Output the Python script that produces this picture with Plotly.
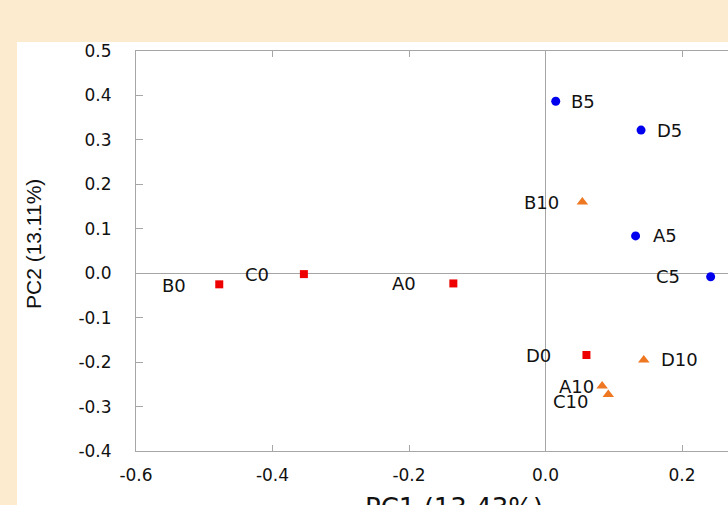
import plotly.graph_objects as go

# ---- data ----
labels_0 = ["A0", "B0", "C0", "D0"]
pc1_0 = [-0.135, -0.478, -0.354, 0.060]
pc2_0 = [-0.023, -0.025, -0.002, -0.184]

labels_5 = ["A5", "B5", "C5", "D5"]
pc1_5 = [0.132, 0.015, 0.242, 0.140]
pc2_5 = [0.084, 0.387, -0.008, 0.322]

labels_10 = ["A10", "B10", "C10", "D10"]
pc1_10 = [0.083, 0.054, 0.092, 0.144]
pc2_10 = [-0.254, 0.160, -0.273, -0.195]

x_tickvals = [-0.6, -0.4, -0.2, 0.0, 0.2]
x_ticktext = ["-0.6", "-0.4", "-0.2", "0.0", "0.2"]
y_tickvals = [-0.4, -0.3, -0.2, -0.1, 0.0, 0.1, 0.2, 0.3, 0.4, 0.5]
y_ticktext = ["-0.4", "-0.3", "-0.2", "-0.1", "0.0", "0.1", "0.2", "0.3", "0.4", "0.5"]

x_title = "PC1 (13.43%)"
y_title = "PC2 (13.11%)"

# ---- label placement styles: (side, horizontal gap px, vertical shift px) ----
label_style = {
    "A0": ("left", 35, 0), "B0": ("left", 31, -1), "C0": ("left", 33, 0), "D0": ("left", 33, 0),
    "A5": ("right", 15, 0), "B5": ("right", 13, 0), "C5": ("left", 29, 0), "D5": ("right", 14, 0),
    "A10": ("left", 6, 0), "B10": ("left", 21, 0), "C10": ("left", 18, -7), "D10": ("right", 15, 0),
}

FONT = "DejaVu Sans"
GRAY = "#a6a6a6"

fig = go.Figure()
fig.add_trace(go.Scatter(x=pc1_0, y=pc2_0, mode="markers",
                         marker=dict(symbol="square", size=8, color="#ee0000"), name="0"))
fig.add_trace(go.Scatter(x=pc1_5, y=pc2_5, mode="markers",
                         marker=dict(symbol="circle", size=9, color="#0000ee"), name="5"))
fig.add_trace(go.Scatter(x=pc1_10, y=pc2_10, mode="markers",
                         marker=dict(symbol="triangle-up", size=10, color="#ee7722"), name="10"))

annotations = []
for labs, xs, ys in [(labels_0, pc1_0, pc2_0), (labels_5, pc1_5, pc2_5), (labels_10, pc1_10, pc2_10)]:
    for lab, xv, yv in zip(labs, xs, ys):
        side, gap, vshift = label_style[lab]
        annotations.append(dict(
            x=xv, y=yv, xref="x", yref="y", text=lab, showarrow=False,
            xanchor="right" if side == "left" else "left", yanchor="middle",
            xshift=-gap if side == "left" else gap, yshift=vshift,
            font=dict(family=FONT, size=18, color="#111111"),
        ))

# axis titles
annotations.append(dict(text=y_title, xref="paper", yref="paper", x=(33 - 136) / 592, y=(451 - 244) / 400,
                        textangle=-90, showarrow=False, xanchor="center", yanchor="middle",
                        font=dict(family="Liberation Sans", size=21, color="#111111")))
annotations.append(dict(text=x_title, xref="paper", yref="paper", x=(454 - 136) / 592, y=(451 - 491) / 400,
                        showarrow=False, xanchor="center", yanchor="top",
                        font=dict(family=FONT, size=26, color="#111111")))

fig.update_layout(
    width=728, height=505,
    margin=dict(l=136, r=0, t=51, b=54, pad=0),
    paper_bgcolor="#fdebd0",
    plot_bgcolor="white",
    showlegend=False,
    annotations=annotations,
    shapes=[dict(type="rect", xref="paper", yref="paper", x0=(17 - 136) / 592, x1=1.05,
                 y0=-0.2, y1=(451 - 42) / 400, fillcolor="white", line=dict(width=0), layer="below")],
)
fig.update_xaxes(range=[-0.6, 0.2674], tickvals=x_tickvals, ticktext=x_ticktext,
                 showgrid=False, zeroline=True, zerolinecolor=GRAY, zerolinewidth=1,
                 showline=True, linecolor=GRAY, linewidth=1, mirror="ticks",
                 ticks="inside", ticklen=6, tickcolor=GRAY, tickwidth=1,
                 tickfont=dict(family=FONT, size=17, color="#111111"), ticklabelstandoff=9)
fig.update_yaxes(range=[-0.4, 0.5], tickvals=y_tickvals, ticktext=y_ticktext,
                 showgrid=False, zeroline=True, zerolinecolor=GRAY, zerolinewidth=1,
                 showline=True, linecolor=GRAY, linewidth=1, mirror=False,
                 ticks="inside", ticklen=7, tickcolor=GRAY, tickwidth=1,
                 tickfont=dict(family=FONT, size=17, color="#111111"), ticklabelstandoff=20)

fig.write_html("out.html")
